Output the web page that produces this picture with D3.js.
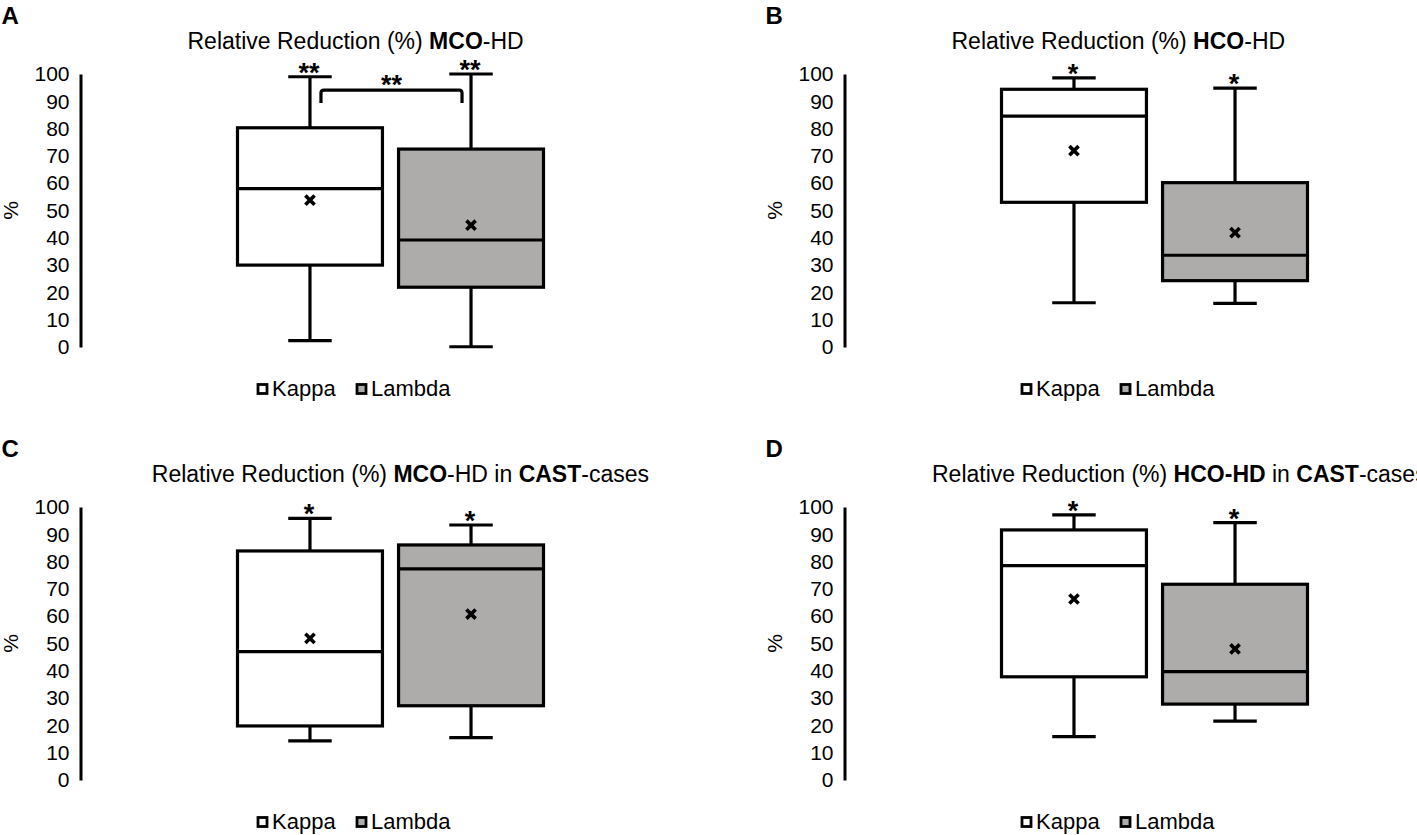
<!DOCTYPE html>
<html>
<head>
<meta charset="utf-8">
<script src="https://cdn.jsdelivr.net/npm/d3@7"></script>
<style>
  html, body { margin: 0; padding: 0; background: #fff; }
  svg { display: block; font-family: "Liberation Sans", Arial, Helvetica, sans-serif; }
</style>
</head>
<body>
<script>
// ---------------- DATA ----------------
const categories = ["Kappa", "Lambda"];
const panelLetters = ["A", "B", "C", "D"];
const titleParts = [
  [["Relative Reduction (%) ", false], ["MCO", true], ["-HD", false]],
  [["Relative Reduction (%) ", false], ["HCO", true], ["-HD", false]],
  [["Relative Reduction (%) ", false], ["MCO", true], ["-HD in ", false], ["CAST", true], ["-cases", false]],
  [["Relative Reduction (%) ", false], ["HCO-HD", true], [" in ", false], ["CAST", true], ["-cases", false]]
];
const yTicks = [0, 10, 20, 30, 40, 50, 60, 70, 80, 90, 100];
// per panel [Kappa, Lambda]
const whiskerMax = [[99, 100], [98.6, 94.8], [95.8, 93.4], [97.1, 94.3]];
const q3Values   = [[80.3, 72.5], [94.4, 60.2], [83.9, 86.1], [91.6, 71.7]];
const medians    = [[58.0, 39.2], [84.6, 33.6], [47.0, 77.3], [78.5, 39.7]];
const q1Values   = [[30.0, 21.9], [53.0, 24.3], [19.8, 27.2], [37.8, 27.8]];
const whiskerMin = [[2.3, 0.1], [16.2, 16.0], [14.3, 15.5], [15.9, 21.6]];
const means      = [[53.8, 44.6], [71.9, 41.9], [51.9, 60.8], [66.3, 48.0]];
const sigLabels  = [["**", "**"], ["*", "*"], ["*", "*"], ["*", "*"]];
// significance bracket between Kappa and Lambda (panel A only)
const bracketPanel = [0];
const bracketTop = [94.1];
const bracketLegEnd = [89.4];
const bracketLabel = ["**"];
const seriesFill = ["#ffffff", "#aeabab"];

// ---------------- LAYOUT ----------------
const W = 1417, H = 835;
const offsets = [[0, 0], [764, 0], [0, 433], [764, 433]];
const titleStartX = [187.5, 187.5, 151.8, 168];
const titleBaseline = 48.8;
const axisX = 80.5;
const strokeW = 3.2;

const svg = d3.select("body").append("svg")
  .attr("width", W).attr("height", H)
  .attr("viewBox", `0 0 ${W} ${H}`);

const y = d3.scaleLinear().domain([0, 100]).range([347, 74]);
const x = d3.scaleBand().domain(categories).range([237.5, 543.5]).paddingInner(0.1).paddingOuter(0);
const bw = x.bandwidth();
const capW = bw * 0.3;

panelLetters.forEach((letter, i) => {
  const [dx, dy] = offsets[i];
  const g = svg.append("g").attr("transform", `translate(${dx},${dy})`);

  // panel letter
  g.append("text")
    .attr("x", 1.5).attr("y", 23.5)
    .attr("font-size", 24).attr("font-weight", "bold")
    .attr("fill", "#000")
    .text(letter);

  // title
  const t = g.append("text")
    .attr("x", titleStartX[i]).attr("y", titleBaseline)
    .attr("font-size", 23).attr("fill", "#000");
  titleParts[i].forEach(([s, b]) => {
    t.append("tspan").attr("font-weight", b ? "bold" : "normal").text(s);
  });

  // y axis
  const ax = g.append("g")
    .attr("transform", `translate(${axisX},0)`)
    .call(d3.axisLeft(y).tickValues(yTicks).tickSize(0).tickSizeOuter(0).tickPadding(11));
  ax.select(".domain").attr("stroke", "#000").attr("stroke-width", 3);
  ax.selectAll(".tick text").attr("font-size", 21).attr("fill", "#000")
    .attr("font-family", '"Liberation Sans", Arial, sans-serif');

  // y axis title
  g.append("text")
    .attr("transform", `translate(10,${(y(0) + y(100)) / 2}) rotate(-90)`)
    .attr("text-anchor", "middle").attr("dominant-baseline", "central")
    .attr("font-size", 21).attr("fill", "#000")
    .text("%");

  // boxes
  categories.forEach((c, j) => {
    const cx = x(c) + bw / 2;
    const lo = whiskerMin[i][j], hi = whiskerMax[i][j];
    const bg = g.append("g");
    // whisker stem
    bg.append("line")
      .attr("x1", cx).attr("x2", cx)
      .attr("y1", y(hi)).attr("y2", y(lo))
      .attr("stroke", "#000").attr("stroke-width", strokeW);
    // caps
    [hi, lo].forEach(v => {
      bg.append("line")
        .attr("x1", cx - capW / 2).attr("x2", cx + capW / 2)
        .attr("y1", y(v)).attr("y2", y(v))
        .attr("stroke", "#000").attr("stroke-width", strokeW);
    });
    // box
    bg.append("rect")
      .attr("x", x(c)).attr("y", y(q3Values[i][j]))
      .attr("width", bw).attr("height", y(q1Values[i][j]) - y(q3Values[i][j]))
      .attr("fill", seriesFill[j]).attr("stroke", "#000").attr("stroke-width", strokeW);
    // median
    bg.append("line")
      .attr("x1", x(c)).attr("x2", x(c) + bw)
      .attr("y1", y(medians[i][j])).attr("y2", y(medians[i][j]))
      .attr("stroke", "#000").attr("stroke-width", strokeW);
    // mean marker
    const my = y(means[i][j]), r = 4.6;
    bg.append("path")
      .attr("d", `M${cx - r},${my - r}L${cx + r},${my + r}M${cx - r},${my + r}L${cx + r},${my - r}`)
      .attr("stroke", "#000").attr("stroke-width", 3.6).attr("fill", "none");
    // significance
    bg.append("text")
      .attr("x", cx - 1).attr("y", y(hi) + 5)
      .attr("text-anchor", "middle")
      .attr("font-size", 27).attr("font-weight", "bold").attr("fill", "#000")
      .text(sigLabels[i][j]);
  });

  // bracket
  bracketPanel.forEach((p, k) => {
    if (p !== i) return;
    const x1 = x(categories[0]) + bw / 2 + 11;
    const x2 = x(categories[1]) + bw / 2 - 9;
    const yt = y(bracketTop[k]), yb = y(bracketLegEnd[k]);
    g.append("path")
      .attr("d", `M${x1},${yb}V${yt + 3}Q${x1},${yt} ${x1 + 3},${yt}H${x2 - 3}Q${x2},${yt} ${x2},${yt + 3}V${yb}`)
      .attr("fill", "none").attr("stroke", "#000").attr("stroke-width", strokeW);
    g.append("text")
      .attr("x", (x1 + x2) / 2).attr("y", yt + 4)
      .attr("text-anchor", "middle")
      .attr("font-size", 27).attr("font-weight", "bold").attr("fill", "#000")
      .text(bracketLabel[k]);
  });

  // legend
  const legX = [262.5, 361.5];
  const legTextX = [272, 371];
  categories.forEach((c, j) => {
    g.append("rect")
      .attr("x", legX[j] - 4.5).attr("y", 389 - 4.5)
      .attr("width", 9).attr("height", 9)
      .attr("fill", seriesFill[j]).attr("stroke", "#000").attr("stroke-width", 2.8);
    g.append("text")
      .attr("x", legTextX[j]).attr("y", 395.5)
      .attr("font-size", 22).attr("fill", "#000")
      .text(c);
  });
});
</script>
</body>
</html>
